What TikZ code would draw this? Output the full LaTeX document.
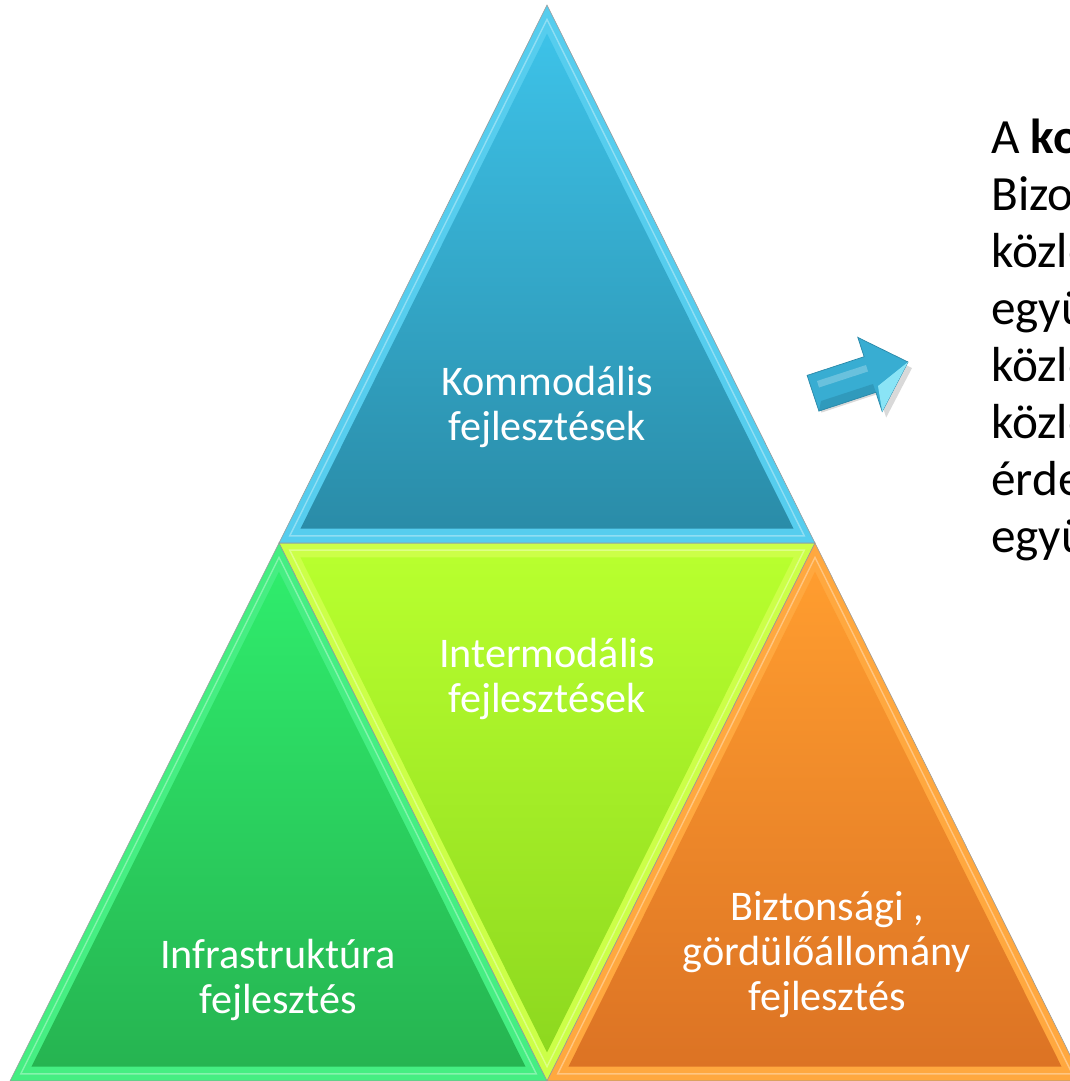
\documentclass[tikz,border=0pt]{standalone}
\usepackage{fontspec}
\setmainfont{Carlito}
\usetikzlibrary{calc}

\definecolor{bluetop}{HTML}{3DC2E8}
\definecolor{bluebot}{HTML}{2A8CA8}
\definecolor{blueband}{HTML}{56CDEE}
\definecolor{limetop}{HTML}{B8FF2E}
\definecolor{limebot}{HTML}{8DD81F}
\definecolor{limeband}{HTML}{CCFF48}
\definecolor{greentop}{HTML}{2FEC6C}
\definecolor{greenbot}{HTML}{26B451}
\definecolor{greenband}{HTML}{45EE82}
\definecolor{orangetop}{HTML}{FF9D2F}
\definecolor{orangebot}{HTML}{DC7324}
\definecolor{orangeband}{HTML}{FFA83F}
\definecolor{arrowblue}{HTML}{38ADD2}
\definecolor{arrowdark}{HTML}{2A88A8}
\definecolor{arrowlight}{HTML}{8AE4F6}

\tikzset{
  lbl/.style={text=white, align=center, font=\fontsize{30}{32}\selectfont},
  edge/.style={draw=black!40, line width=0.4pt},
}

% one bevelled triangle: corners, band colour, body top and bottom colour
\newcommand{\facet}[6]{%
  \fill[#4] (#1) -- (#2) -- (#3) -- cycle;
  \coordinate (cen) at ($0.3333*(#1)+0.3333*(#2)+0.3334*(#3)$);
  \shade[top color=#5, bottom color=#6]
    ($(cen)!0.92!(#1)$) -- ($(cen)!0.92!(#2)$) -- ($(cen)!0.92!(#3)$) -- cycle;
  \draw[white, opacity=.35, line width=1pt]
    ($(cen)!0.96!(#1)$) -- ($(cen)!0.96!(#2)$) -- ($(cen)!0.96!(#3)$) -- cycle;
  \draw[edge] (#1) -- (#2) -- (#3) -- cycle;
}

\begin{document}
\begin{tikzpicture}[x=0.025cm,y=-0.025cm]
    \useasboundingbox (0,0) rectangle (1070,1081);
    \clip (0,0) rectangle (1070,1081);

    \coordinate (apex) at (547,5);
    \coordinate (ml) at (279,543);
    \coordinate (mr) at (815,543);
    \coordinate (bl) at (10,1081);
    \coordinate (bm) at (547,1081);
    \coordinate (br) at (1083,1081);

    \facet{ml}{mr}{bm}{limeband}{limetop}{limebot}
    \facet{apex}{ml}{mr}{blueband}{bluetop}{bluebot}
    \facet{ml}{bl}{bm}{greenband}{greentop}{greenbot}
    \facet{mr}{bm}{br}{orangeband}{orangetop}{orangebot}

    \node[lbl] (komm) at (547,407) {Kommodális\\fejlesztések};
    \node[lbl] (inter) at (547,679) {Intermodális\\fejlesztések};
    \node[lbl] (infra) at (278,980) {Infrastruktúra\\fejlesztés};
    \node[lbl] (bizt) at (827,955) {Biztonsági ,\\gördülőállomány\\fejlesztés};

    % arrow
    \fill[black, opacity=.15] (812.6,385.9) -- (869.6,367.2) -- (861.8,343.4)
        -- (912,368) -- (886.2,417.5) -- (878.4,393.8) -- (821.4,412.6) -- cycle;
    \fill[arrowblue, draw=arrowdark, line width=0.5pt] (807.1,375.4) -- (864.1,356.7) -- (857.8,337.4)
        -- (908,362) -- (882.2,411.5) -- (875.9,392.3) -- (818.9,411.1) -- cycle;
    \fill[arrowlight] (908,362) -- (882.2,411.5) -- (878,386) -- cycle;
    \fill[arrowdark, opacity=.5] (818.9,411.1) -- (875.9,392.3) -- (873,384) -- (821,401) -- cycle;
    \fill[white, opacity=.25] (817,381) -- (866,365) -- (868,371.5) -- (819,387.5) -- cycle;

    \node[anchor=north west, align=left, inner sep=0pt,
          font=\fontsize{35}{40.5}\selectfont] (desc) at (991,119)
        {A \textbf{komodalitás} fogalma az Európai\\
         Bizottság megfogalmazásában: a\\
         közlekedési módok hatékony\\
         együttes alkalmazása, azaz a\\
         közlekedési ágak egymással és a\\
         közlekedési ágazat más\\
         érdekelt területeivel való\\
         együttműködése.};
\end{tikzpicture}
\end{document}
